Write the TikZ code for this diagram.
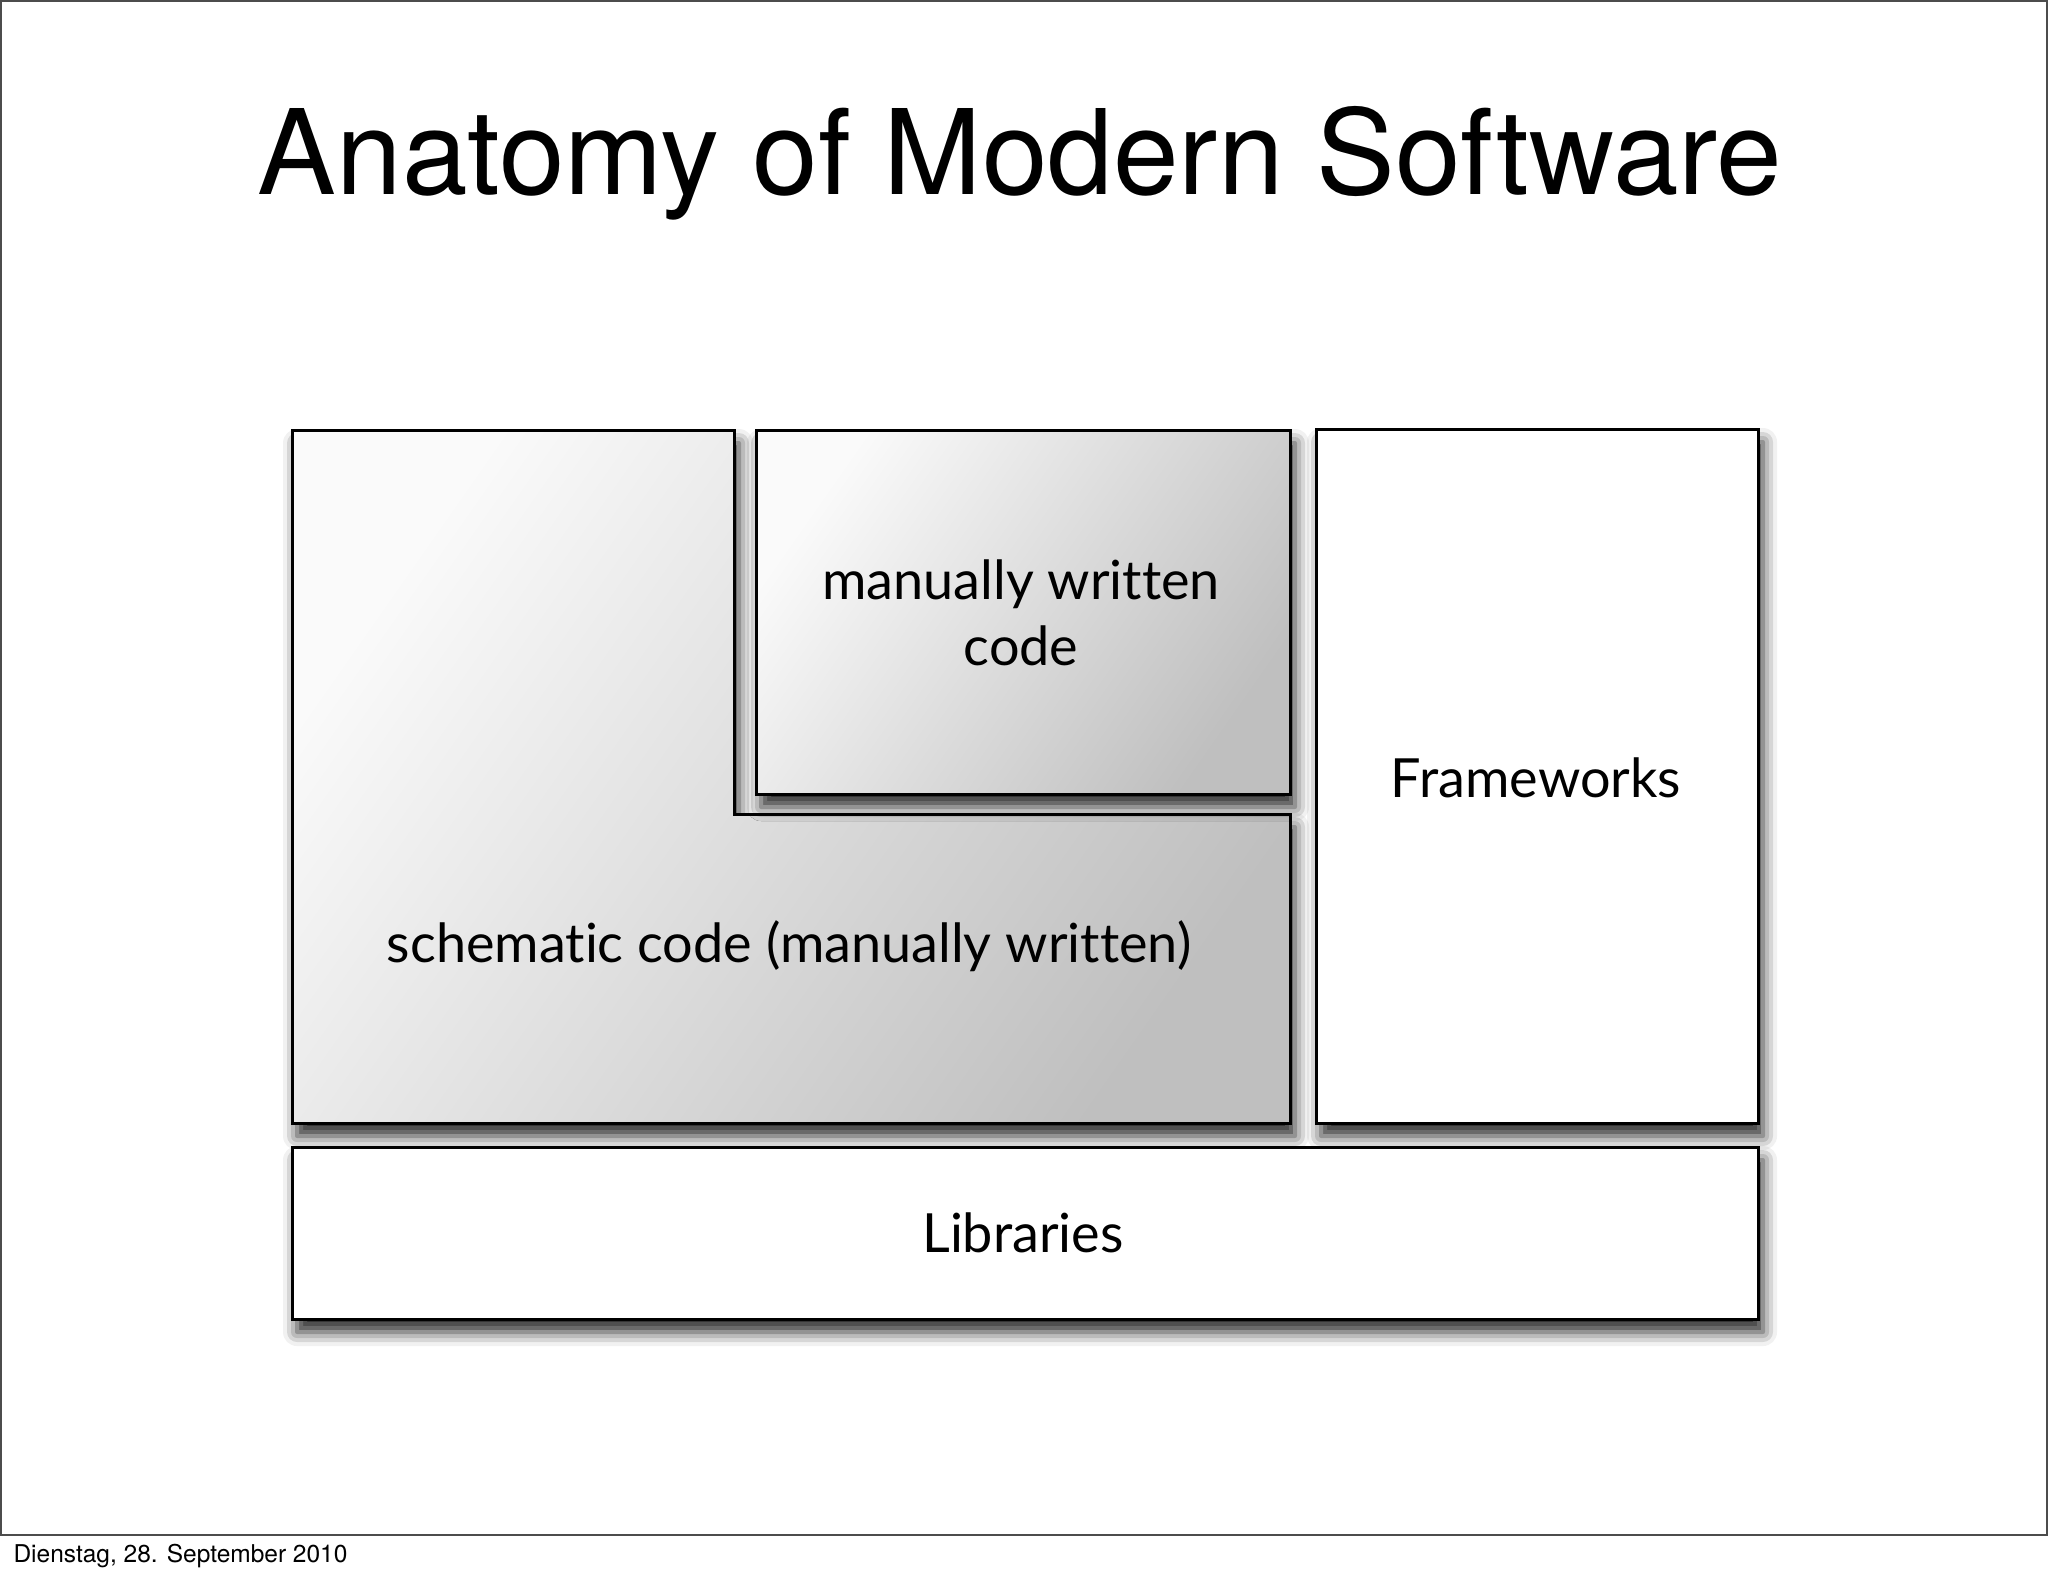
\documentclass[tikz,border=0pt]{standalone}
\usepackage{fontspec}
\setmainfont{TeX Gyre Heros}
\newfontfamily\boxfont[Ligatures=NoCommon]{Lato}
\usetikzlibrary{shadows.blur}

\tikzset{
    layer/.style={draw=black, line width=3pt,
        blur shadow={shadow xshift=5pt, shadow yshift=-13pt,
            shadow blur radius=14pt, shadow opacity=85}},
    graylayer/.style={layer, left color=black!2, right color=black!25,
        shading angle=55},
    whitelayer/.style={layer, fill=white, inner sep=0pt},
    layertext/.style={font=\boxfont\fontsize{54}{66}\selectfont, align=center}
}

\begin{document}
\begin{tikzpicture}[x=1pt, y=-1pt]
    \useasboundingbox (0,0) rectangle (2048,1576);

    % Slide frame
    \draw[line width=2pt, black!70] (1,1) rectangle (2047,1535);

    % Title
    \node[font=\fontsize{118}{120}\selectfont] (title) at (1020,163) {Anatomy of Modern Software};

    % Schematic code (L-shape)
    \draw[graylayer] (292,430) -- (734,430) -- (734,814) -- (1290,814)
        -- (1290,1123) -- (292,1123) -- cycle;
    \node[layertext] (schematic) at (789,946) {schematic code (manually written)};

    % Manually written code
    \node[graylayer, inner sep=0pt, minimum width=534pt, minimum height=364pt] (manual) at (1023,612) {};
    \node[layertext] (manualtext) at (1021,613) {manually written\\code};

    % Frameworks
    \node[whitelayer, minimum width=442pt, minimum height=694pt] (frameworks) at (1537,776) {};
    \node[layertext] (frameworkstext) at (1536,778) {Frameworks};

    % Libraries
    \node[whitelayer, minimum width=1466pt, minimum height=172pt] (libraries) at (1025,1233) {};
    \node[layertext] (librariestext) at (1023,1233) {Libraries};

    % Date
    \node[anchor=west, font=\fontsize{24.5}{28}\selectfont] (date) at (10,1556) {Dienstag, 28. September 2010};
\end{tikzpicture}
\end{document}
